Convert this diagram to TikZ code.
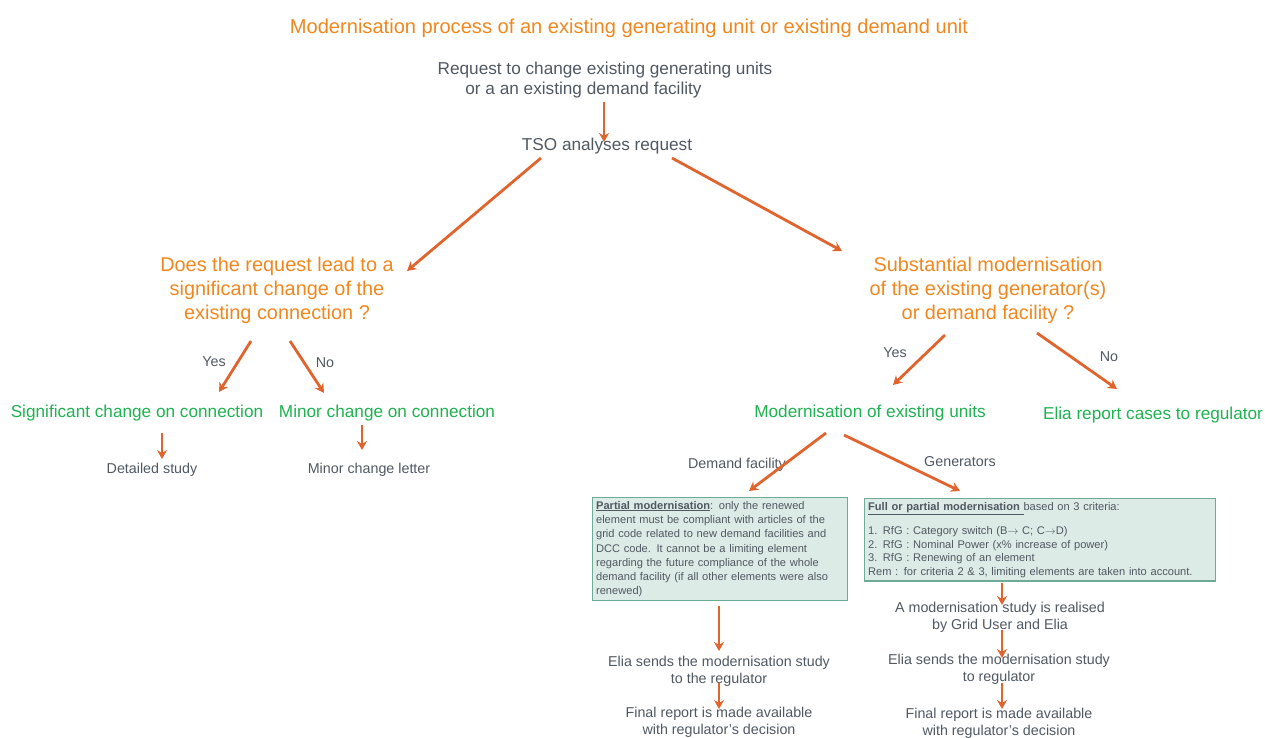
\documentclass[tikz,border=0pt]{standalone}
\usepackage{fontspec}
\setmainfont{Liberation Sans}
\usetikzlibrary{arrows.meta}
\definecolor{torange}{RGB}{240,135,30}
\definecolor{tgray}{RGB}{80,88,98}
\definecolor{tgreen}{RGB}{30,178,80}
\definecolor{tarrow}{RGB}{224,100,45}
\definecolor{boxfill}{RGB}{221,235,230}
\definecolor{boxline}{RGB}{110,170,150}
\tikzset{
  title/.style={text=torange, inner sep=0pt, yshift=-2pt, font=\fontsize{20.1}{24}\selectfont},
  question/.style={text=torange, inner sep=0pt, yshift=-1.5pt, align=center, font=\fontsize{19.9}{24}\selectfont},
  main/.style={text=tgray, inner sep=0pt, yshift=-1.5pt, align=center, font=\fontsize{17.2}{20}\selectfont},
  outcome/.style={text=tgreen, inner sep=0pt, yshift=-1.5pt, font=\fontsize{17.2}{20}\selectfont},
  small/.style={text=tgray, inner sep=0pt, yshift=-1.5pt, align=center, font=\fontsize{14.3}{17.5}\selectfont},
  lbl/.style={text=tgray, inner sep=0pt, yshift=-1.5pt, font=\fontsize{14.3}{16}\selectfont},
  textbox/.style={draw=boxline, fill=boxfill, line width=1.2pt, text=tgray, inner sep=3.5pt, anchor=north west},
  arr/.style={draw=tarrow, line width=2.8pt, -{Stealth[length=9pt,width=10pt]}}
}
\begin{document}
\begin{tikzpicture}[x=1pt,y=-1pt]
\useasboundingbox (0,0) rectangle (1265,737);
% texts
\node[title] (title) at (629,26) {Modernisation process of an existing generating unit or existing demand unit};
\node[main] (req) at (605,79) {Request to change existing generating units\\\hspace*{-2.5em}or a an existing demand facility};
\node[main] (tso) at (607,145) {TSO analyses request};
\node[question] (q1) at (277,289) {Does the request lead to a\\significant change of the\\existing connection ?};
\node[question] (q2) at (988,289) {Substantial modernisation\\of the existing generator(s)\\or demand facility ?};
\node[outcome] (sig) at (137,412) {Significant change on connection};
\node[outcome] (minor) at (387,412) {Minor change on connection};
\node[small] (det) at (152,468) {Detailed study};
\node[small] (letter) at (369,468) {Minor change letter};
\node[outcome] (modu) at (870,412) {Modernisation of existing units};
\node[outcome] (elia) at (1153,414) {Elia report cases to regulator};
\node[lbl] (yes1) at (214,360) {Yes};
\node[lbl] (no1) at (325,361) {No};
\node[lbl] (yes2) at (895,351) {Yes};
\node[lbl] (no2) at (1109,355) {No};
\node[lbl] (dlab) at (737,463) {Demand facility};
\node[lbl] (glab) at (960,460) {Generators};
% boxes
\node[textbox, text width=248pt, align=left, font=\fontsize{11.1}{14.3}\selectfont] (pbox) at (592,497)
 {\underline{\textbf{Partial modernisation}}: only the renewed\\
 element must be compliant with articles of the\\
 grid code related to new demand facilities and\\
 DCC code. It cannot be a limiting element\\
 regarding the future compliance of the whole\\
 demand facility (if all other elements were also\\
 renewed)};
\node[textbox, text width=344pt, align=left, font=\fontsize{11.1}{13.5}\selectfont] (fbox) at (864,498)
 {\underline{\textbf{Full or partial modernisation}\ }based on 3 criteria:\\[11pt]
 1. RfG : Category switch (B$\rightarrow$ C; C$\rightarrow$D)\\
 2. RfG : Nominal Power (x\% increase of power)\\
 3. RfG : Renewing of an element\\
 Rem : for criteria 2 \& 3, limiting elements are taken into account.};
\node[small] (send1) at (719,670) {Elia sends the modernisation study\\to the regulator};
\node[small] (final1) at (719,721) {Final report is made available\\with regulator's decision};
\node[small] (study) at (1000,616) {A modernisation study is realised\\by Grid User and Elia};
\node[small] (send2) at (999,668) {Elia sends the modernisation study\\to regulator};
\node[small] (final2) at (999,722) {Final report is made available\\with regulator's decision};
% arrow end points
\coordinate (a1s) at (604,102); \coordinate (a1e) at (604,142);
\coordinate (a2s) at (541,158); \coordinate (a2e) at (407,271);
\coordinate (a3s) at (672,158); \coordinate (a3e) at (842,251);
\coordinate (a4s) at (251,341); \coordinate (a4e) at (219,392);
\coordinate (a5s) at (290,341); \coordinate (a5e) at (324,393);
\coordinate (a6s) at (162,433); \coordinate (a6e) at (162,459);
\coordinate (a7s) at (362,425); \coordinate (a7e) at (362,450);
\coordinate (a8s) at (945,335); \coordinate (a8e) at (893,385);
\coordinate (a9s) at (1037,333); \coordinate (a9e) at (1117,389);
\coordinate (a10s) at (826,433); \coordinate (a10e) at (749,491);
\coordinate (a11s) at (844,435); \coordinate (a11e) at (960,491);
\coordinate (a12s) at (719,606); \coordinate (a12e) at (719,651);
\coordinate (a13s) at (719,683); \coordinate (a13e) at (719,709);
\coordinate (a14s) at (1002,583); \coordinate (a14e) at (1002,605);
\coordinate (a15s) at (1002,630); \coordinate (a15e) at (1002,658);
\coordinate (a16s) at (1002,683); \coordinate (a16e) at (1002,709);
\foreach \i in {1,...,16} {\draw[arr] (a\i s) -- (a\i e);}
\end{tikzpicture}
\end{document}
